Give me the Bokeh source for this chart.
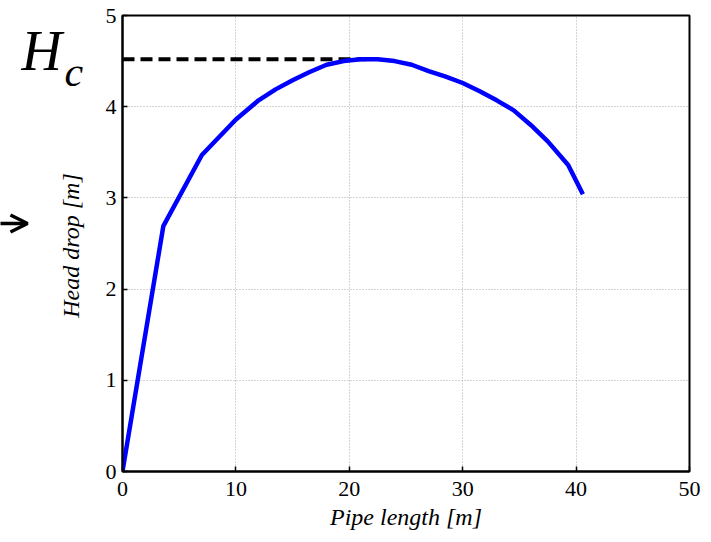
import math
from bokeh.plotting import figure
from bokeh.layouts import row
from bokeh.models import Range1d, Label, FixedTicker, Arrow, OpenHead
from bokeh.embed import file_html
from bokeh.resources import INLINE

# Data
pipe_length = [0, 3.6, 7.0, 10.0, 12.0, 13.5, 15.0, 16.5, 18.0, 19.5, 21.0, 22.5,
               24.0, 25.5, 27.0, 28.5, 30.0, 31.5, 33.0, 34.5, 36.0, 37.5, 39.3, 40.6]
head_drop = [0, 2.69, 3.47, 3.86, 4.07, 4.19, 4.29, 4.38, 4.46, 4.50, 4.52, 4.52,
             4.50, 4.46, 4.39, 4.33, 4.26, 4.17, 4.07, 3.96, 3.80, 3.62, 3.36, 3.04]
hc_x = [0, 21.5]
hc_y = [4.52, 4.52]
x_ticks = [0, 10, 20, 30, 40, 50]
y_ticks = [0, 1, 2, 3, 4, 5]

FONT = "Liberation Serif"
H = 534
TOP, BOTTOM = 15, 63

# ---- left strip: H_c annotation, arrow and the y-axis title
# (its frame is aligned with the main frame; coordinates are pixels from the bottom)
a = figure(width=100, height=H, output_backend="svg", toolbar_location=None,
           x_range=Range1d(0, 100), y_range=Range1d(BOTTOM, H - TOP),
           x_axis_type=None, y_axis_type=None,
           min_border_left=0, min_border_right=0, min_border_top=TOP, min_border_bottom=BOTTOM)
a.grid.visible = False
a.outline_line_color = None
a.background_fill_color = "white"
a.border_fill_color = "white"

a.add_layout(Label(x=21, y=H - 50, text="H", text_font=FONT, text_font_style="italic",
                   text_font_size="56px", text_color="black", text_baseline="alphabetic"))
a.add_layout(Label(x=64, y=H - 71, text="c", text_font=FONT, text_font_style="italic",
                   text_font_size="42px", text_color="black", text_baseline="alphabetic"))
a.add_layout(Arrow(end=OpenHead(size=17, line_width=3.5, line_color="black"),
                   x_start=-10, y_start=H - 223, x_end=27, y_end=H - 223,
                   line_width=3.5, line_color="black"))
a.add_layout(Label(x=70, y=H - 245, text="Head drop [m]", text_font=FONT,
                   text_font_style="italic", text_font_size="24px", text_color="black",
                   angle=math.pi / 2, text_align="center", text_baseline="alphabetic"))

# ---- main plot
p = figure(width=603, height=H, output_backend="svg", toolbar_location=None,
           x_range=Range1d(0, 50), y_range=Range1d(0, 5),
           min_border_left=22, min_border_right=14, min_border_top=TOP, min_border_bottom=BOTTOM)

p.background_fill_color = "white"
p.border_fill_color = "white"
p.outline_line_color = "black"
p.outline_line_width = 2

p.line(hc_x, hc_y, line_color="black", line_width=4, line_dash="12 6")
p.line(pipe_length, head_drop, line_color="#0000ff", line_width=4.5)

for ax in (p.xaxis[0], p.yaxis[0]):
    ax.axis_line_width = 2
    ax.axis_line_color = "black"
    ax.major_tick_in = 5
    ax.major_tick_out = 0
    ax.major_tick_line_width = 1.5
    ax.minor_tick_line_color = None
    ax.major_label_text_font = FONT
    ax.major_label_text_font_size = "22px"
    ax.major_label_text_color = "black"
    ax.axis_label_text_font = FONT
    ax.axis_label_text_font_style = "italic"
    ax.axis_label_text_font_size = "24px"
    ax.axis_label_text_color = "black"

p.xaxis[0].ticker = FixedTicker(ticks=x_ticks)
p.yaxis[0].ticker = FixedTicker(ticks=y_ticks)
p.xaxis[0].axis_label = "Pipe length [m]"
p.xaxis[0].major_label_standoff = 10
p.xaxis[0].axis_label_standoff = 5
p.yaxis[0].major_label_standoff = 6

p.xgrid.ticker = FixedTicker(ticks=x_ticks)
p.ygrid.ticker = FixedTicker(ticks=y_ticks)
for g in (p.xgrid[0], p.ygrid[0]):
    g.grid_line_color = "#a8a8a8"
    g.grid_line_dash = "1 2"
    g.grid_line_width = 1

layout = row(a, p, spacing=0)
open("out.html", "w").write(file_html(layout, INLINE))
